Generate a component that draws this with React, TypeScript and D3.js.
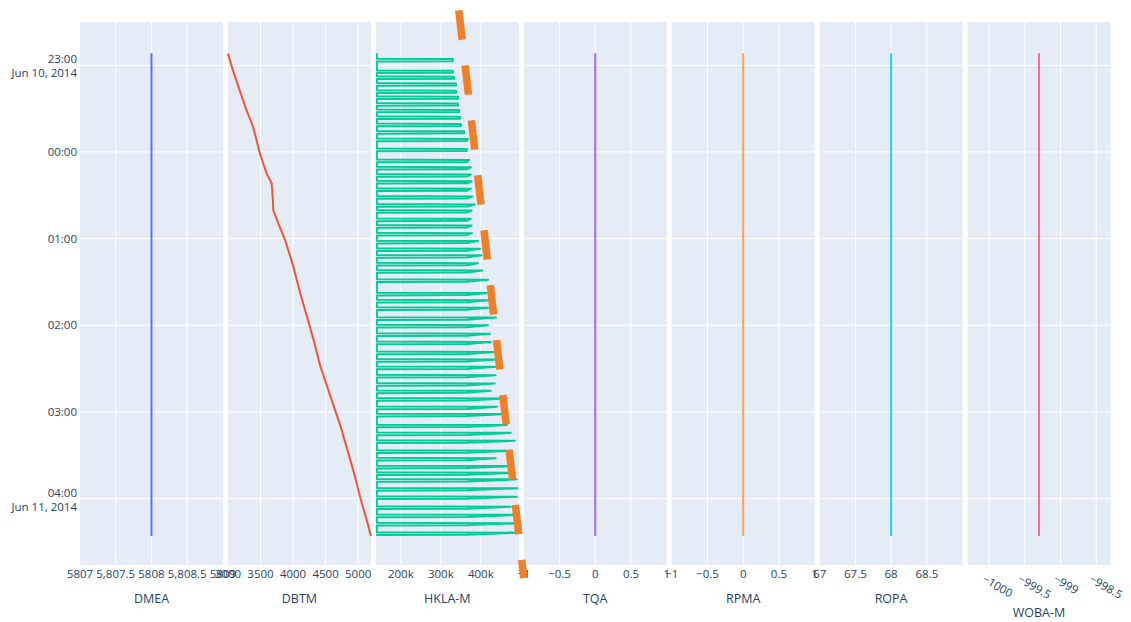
import React from 'react';
import * as d3 from 'd3';

const W = 1131;
const H = 622;

// ---- data ----
const panelNames = ['DMEA', 'DBTM', 'HKLA-M', 'TQA', 'RPMA', 'ROPA', 'WOBA-M'];
const panelColors = ['#636efa', '#EF553B', '#00cc96', '#ab63fa', '#FFA15A', '#19d3f3', '#FF6692'];
const xDomains: [number, number][] = [
  [5807, 5809], [3000, 5195], [137500, 495000], [-1, 1], [-1, 1], [67, 69], [-1000.3, -998.3],
];
const xTickValues: number[][] = [
  [5807, 5807.5, 5808, 5808.5, 5809],
  [3000, 3500, 4000, 4500, 5000],
  [200000, 300000, 400000],
  [-1, -0.5, 0, 0.5, 1],
  [-1, -0.5, 0, 0.5, 1],
  [67, 67.5, 68, 68.5],
  [-1000, -999.5, -999, -998.5],
];
const xTickLabels: string[][] = [
  ['5807', '5,807.5', '5808', '5,808.5', '5809'],
  ['3000', '3500', '4000', '4500', '5000'],
  ['200k', '300k', '400k'],
  ['\u22121', '\u22120.5', '0', '0.5', '1'],
  ['\u22121', '\u22120.5', '0', '0.5', '1'],
  ['67', '67.5', '68', '68.5'],
  ['\u22121000', '\u2212999.5', '\u2212999', '\u2212998.5'],
];
const yTickLabels: string[][] = [
  ['23:00', 'Jun 10, 2014'], ['00:00'], ['01:00'], ['02:00'], ['03:00'], ['04:00', 'Jun 11, 2014'],
];

// time = minutes after Jun 10, 2014 23:00
const startMin = -8.3;
const endMin = 326;

// constant channels (DMEA, TQA, RPMA, ROPA, WOBA-M)
const constantValues: { [k: string]: number } = {
  DMEA: 5808, TQA: 0, RPMA: 0, ROPA: 68, 'WOBA-M': -999.3,
};

// DBTM bit depth
const dbtmMinutes = [-8.1, 3.5, 17.3, 31.1, 42.6, 61.0, 74.8, 81.8, 91.0, 100.2, 109.4, 121.0, 139.4, 157.8, 174.0, 190.1, 208.5, 222.4, 236.2, 250.0, 266.1, 282.2, 300.6, 316.8, 326.0];
const dbtmValues = [3000, 3077, 3181, 3285, 3387, 3491, 3594, 3672, 3687, 3697, 3774, 3878, 4006, 4110, 4214, 4316, 4420, 4524, 4626, 4730, 4834, 4936, 5040, 5143, 5195];

// HKLA-M hook load spikes
const hklaBase = 140000;
const hklaReturnK = 365; // level where the hook load pauses on the way back
const spikeMinutes = [
  -4.6, 3.5, 7.6, 12.2, 17.3, 21.4, 26.1, 30.6, 35.3, 40.3, 45.4, 50.7, 57.6, 65.2, 70.3, 75.3, 80.0, 85.2, 90.5, 96.1,
  100.2, 106.0, 110.6, 115.9, 121.4, 126.7, 131.3, 136.7, 141.7, 148.1, 157.4, 162.4, 167.5, 174.4, 179.7, 185.5, 191.3, 198.2, 203.4, 208.5,
  214.3, 220.0, 225.1, 230.4, 236.2, 241.2, 248.8, 254.2, 259.7, 266.6, 271.8, 277.2, 281.8, 286.4, 292.6, 298.4, 305.3, 311.0, 316.8, 323.3,
];
const spikePeaksK = [
  330, 330, 333, 338, 338, 343, 343, 346, 348, 350, 358, 368, 365, 371, 375, 375, 377, 375, 379, 385,
  377, 375, 377, 378, 393, 398, 402, 393, 404, 418, 417, 418, 418, 438, 418, 423, 425, 435, 442, 438,
  437, 435, 425, 465, 440, 465, 465, 475, 485, 477, 437, 477, 485, 490, 492, 490, 475, 494, 494, 494,
];

// dashed reference line on HKLA-M axis
const dashMinutes = [-38, 355];
const dashValues = [345000, 507500];

// ---- layout ----
const plotTop = 22;
const plotBottom = 565;
const plotLeft = 80;
const plotRight = 1110.5;
const gap = 5;
const nP = panelNames.length;
const pW = (plotRight - plotLeft - gap * (nP - 1)) / nP;

const t0 = Date.UTC(2014, 5, 10, 23, 0);
const toDate = (m: number) => new Date(t0 + m * 60000);

const yScale = d3.scaleUtc()
  .domain([new Date(Date.UTC(2014, 5, 10, 22, 30)), new Date(Date.UTC(2014, 5, 11, 4, 46))])
  .range([plotTop, plotBottom]);

const xScales = xDomains.map((d, i) => {
  const x0 = plotLeft + i * (pW + gap);
  return d3.scaleLinear().domain(d).range([x0, x0 + pW]);
});

const FONT = '"Open Sans", verdana, arial, sans-serif';
const TXT = '#2a3f5f';

type Pt = { t: number; v: number };

function seriesFor(name: string): Pt[] {
  if (name === 'DBTM') return dbtmMinutes.map((t, i) => ({ t, v: dbtmValues[i] }));
  if (name === 'HKLA-M') {
    const pts: Pt[] = [{ t: startMin, v: hklaBase }];
    spikeMinutes.forEach((t, i) => {
      const pk = spikePeaksK[i] * 1000;
      pts.push({ t, v: hklaBase });
      pts.push({ t: t + 0.3, v: pk });
      pts.push({ t: t + 1.7, v: Math.min(pk, hklaReturnK * 1000) });
      pts.push({ t: t + 1.9, v: hklaBase });
    });
    pts.push({ t: endMin, v: hklaBase });
    return pts;
  }
  const c = constantValues[name];
  return [{ t: startMin, v: c }, { t: endMin, v: c }];
}

export default function App() {
  const yTicks = yScale.ticks(d3.utcHour.every(1) as any);
  return (
    <svg width={W} height={H} style={{ position: 'absolute', left: 0, top: 0, background: '#fff' }} fontFamily={FONT}>
      {panelNames.map((name, i) => {
        const xs = xScales[i];
        const [r0, r1] = xs.range();
        const line = d3.line<Pt>().x(d => xs(d.v)).y(d => yScale(toDate(d.t)));
        const rotated = name === 'WOBA-M';
        return (
          <g key={name}>
            <rect x={r0} y={plotTop} width={r1 - r0} height={plotBottom - plotTop} fill="#E5ECF6" />
            {yTicks.map((t, k) => (
              <line key={'h' + k} x1={r0} x2={r1} y1={yScale(t)} y2={yScale(t)} stroke="#fff" strokeWidth={1} />
            ))}
            {xTickValues[i].map((v, k) => {
              const x = xs(v);
              if (x <= r0 + 0.5 || x >= r1 - 0.5) return null;
              return <line key={'v' + k} x1={x} x2={x} y1={plotTop} y2={plotBottom} stroke="#fff" strokeWidth={1} />;
            })}
            <path d={line(seriesFor(name)) || ''} fill="none" stroke={panelColors[i]} strokeWidth={2} strokeLinejoin="round" />
            {xTickValues[i].map((v, k) => {
              const x = xs(v);
              if (rotated) {
                return (
                  <text key={'l' + k} x={x - 3} y={plotBottom + 8} fontSize={11.5} fill={TXT}
                    textAnchor="start" dominantBaseline="hanging" transform={`rotate(30 ${x - 3} ${plotBottom + 8})`}>
                    {xTickLabels[i][k]}
                  </text>
                );
              }
              return (
                <text key={'l' + k} x={x} y={plotBottom + 13} fontSize={11.5} fill={TXT} textAnchor="middle">
                  {xTickLabels[i][k]}
                </text>
              );
            })}
            <text x={(r0 + r1) / 2} y={rotated ? 617 : 603} fontSize={12.5} fill={TXT} textAnchor="middle">{name}</text>
          </g>
        );
      })}
      {yTicks.map((t, k) => {
        const y = yScale(t);
        const lab = yTickLabels[k] || [];
        if (lab.length === 2) {
          return (
            <g key={'yl' + k}>
              <text x={77} y={y - 2} fontSize={11.5} fill={TXT} textAnchor="end">{lab[0]}</text>
              <text x={77} y={y + 12} fontSize={11.5} fill={TXT} textAnchor="end">{lab[1]}</text>
            </g>
          );
        }
        return <text key={'yl' + k} x={77} y={y + 4} fontSize={11.5} fill={TXT} textAnchor="end">{lab[0]}</text>;
      })}
      <line
        x1={xScales[2](dashValues[0])} y1={yScale(toDate(dashMinutes[0]))}
        x2={xScales[2](dashValues[1])} y2={yScale(toDate(dashMinutes[1]))}
        stroke="#F07F2A" strokeWidth={7.5} strokeDasharray="29.5 25.8"
      />
    </svg>
  );
}
